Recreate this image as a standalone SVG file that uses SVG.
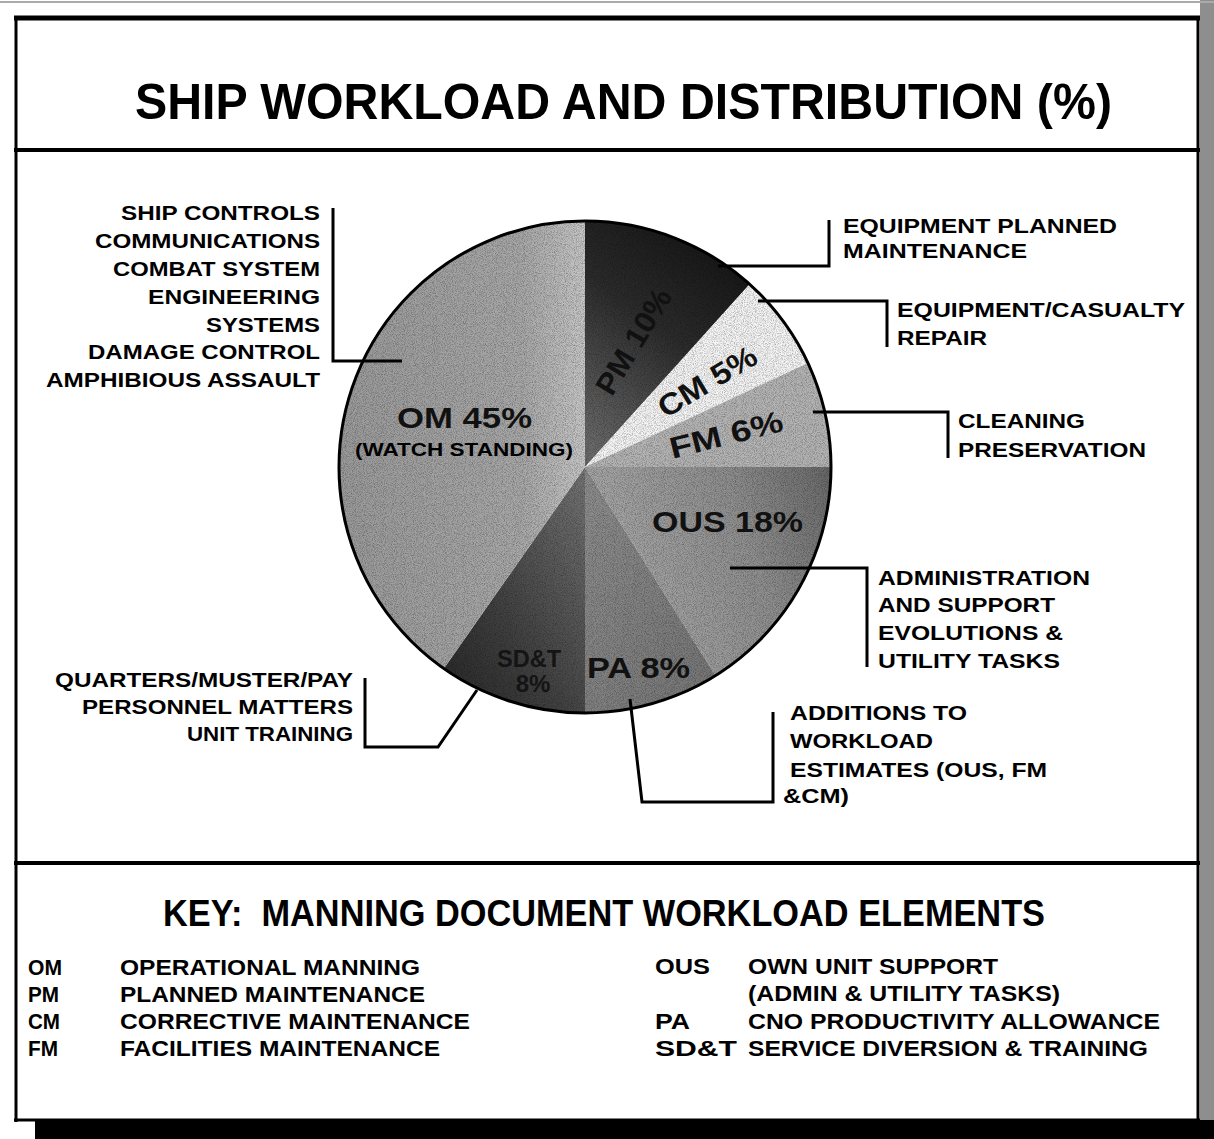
<svg xmlns="http://www.w3.org/2000/svg" width="1214" height="1139" viewBox="0 0 1214 1139">
<style>
  text { font-family: "Liberation Sans", Arial, sans-serif; font-weight: bold; fill: #000; }
  .lbl { font-size: 20px; }
  .key { font-size: 22px; }
  .pie { font-size: 30px; fill: #111; }
  .dark { fill: #141414; }
  .frame { stroke: #000; fill: none; }
  .lead { stroke: #000; stroke-width: 3; fill: none; stroke-linejoin: miter; }
</style>
<defs>
  <linearGradient id="gOM" x1="0" y1="0" x2="1" y2="0">
    <stop offset="0" stop-color="#9a9a9a"/>
    <stop offset="0.75" stop-color="#a8a8a8"/>
    <stop offset="1" stop-color="#c6c6c6"/>
  </linearGradient>
  <linearGradient id="gPM" x1="0.7" y1="0" x2="0.2" y2="1">
    <stop offset="0" stop-color="#151515"/>
    <stop offset="0.45" stop-color="#2c2c2c"/>
    <stop offset="1" stop-color="#6a6a6a"/>
  </linearGradient>
  <linearGradient id="gOUS" x1="0" y1="0.3" x2="1" y2="0">
    <stop offset="0" stop-color="#a8a8a8"/>
    <stop offset="0.6" stop-color="#8e8e8e"/>
    <stop offset="1" stop-color="#686868"/>
  </linearGradient>
  <linearGradient id="gPA" x1="0" y1="0" x2="1" y2="1">
    <stop offset="0" stop-color="#8e8e8e"/>
    <stop offset="1" stop-color="#747474"/>
  </linearGradient>
  <linearGradient id="gSDT" x1="1" y1="0" x2="0" y2="1">
    <stop offset="0" stop-color="#747474"/>
    <stop offset="0.6" stop-color="#404040"/>
    <stop offset="1" stop-color="#262626"/>
  </linearGradient>
  <clipPath id="pieClip"><circle cx="585" cy="467" r="246"/></clipPath>
  <filter id="grain" x="0" y="0" width="100%" height="100%">
    <feTurbulence type="fractalNoise" baseFrequency="1.1" numOctaves="1" seed="4"/>
    <feColorMatrix type="matrix" values="0 0 0 0 0  0 0 0 0 0  0 0 0 0 0  2.2 0 0 0 -0.9"/>
  </filter>
</defs>

<rect x="0" y="0" width="1214" height="1139" fill="#fff"/>

<g id="frame">
  <rect x="1200" y="0" width="14" height="1139" fill="#8e8e8e"/>
  <line x1="0" y1="2" x2="1214" y2="2" stroke="#aaa" stroke-width="2"/>
  <line class="frame" x1="16" y1="17" x2="16" y2="1122" stroke-width="3"/>
  <line class="frame" x1="14" y1="18" x2="1200" y2="18" stroke-width="5"/>
  <line class="frame" x1="1198" y1="17" x2="1198" y2="1122" stroke-width="3"/>
  <line class="frame" x1="14" y1="150" x2="1200" y2="150" stroke-width="4"/>
  <line class="frame" x1="14" y1="863" x2="1200" y2="863" stroke-width="4"/>
  <line class="frame" x1="14" y1="1120" x2="1200" y2="1120" stroke-width="3"/>
  <rect x="35" y="1120" width="1179" height="19" fill="#000"/>
</g>

<g id="title">
  <text x="135" y="119" font-size="50" textLength="977" lengthAdjust="spacingAndGlyphs">SHIP WORKLOAD AND DISTRIBUTION (%)</text>
</g>

<g id="pie">
  <path id="slice-PM" d="M585,467 L585,221 A246,246 0 0 1 749.6,284.2 Z" fill="url(#gPM)"/>
  <path id="slice-CM" d="M585,467 L749.6,284.2 A246,246 0 0 1 807.9,363 Z" fill="#f4f4f4"/>
  <path id="slice-FM" d="M585,467 L807.9,363 A246,246 0 0 1 831,467 Z" fill="#b4b4b4"/>
  <path id="slice-OUS" d="M585,467 L831,467 A246,246 0 0 1 715.4,675.6 Z" fill="url(#gOUS)"/>
  <path id="slice-PA" d="M585,467 L715.4,675.6 A246,246 0 0 1 585,713 Z" fill="url(#gPA)"/>
  <path id="slice-SDT" d="M585,467 L585,713 A246,246 0 0 1 443.9,668.5 Z" fill="url(#gSDT)"/>
  <path id="slice-OM" d="M585,467 L443.9,668.5 A246,246 0 0 1 585,221 Z" fill="url(#gOM)"/>
  <rect x="339" y="221" width="492" height="492" filter="url(#grain)" clip-path="url(#pieClip)" opacity="0.35"/>
  <circle cx="585" cy="467" r="246" fill="none" stroke="#000" stroke-width="3"/>
</g>

<g id="pie-labels">
  <text class="pie" x="397" y="428" textLength="135" lengthAdjust="spacingAndGlyphs">OM 45%</text>
  <text x="355" y="456" font-size="19" textLength="218" lengthAdjust="spacingAndGlyphs">(WATCH STANDING)</text>
  <text class="pie" transform="translate(633,341) rotate(-59)" text-anchor="middle" y="11" textLength="118" lengthAdjust="spacingAndGlyphs">PM 10%</text>
  <text class="pie" transform="translate(707,381) rotate(-31)" text-anchor="middle" y="11" textLength="110" lengthAdjust="spacingAndGlyphs">CM 5%</text>
  <text class="pie" transform="translate(726,434) rotate(-14)" text-anchor="middle" y="11" textLength="116" lengthAdjust="spacingAndGlyphs">FM 6%</text>
  <text class="pie" x="652" y="532" textLength="151" lengthAdjust="spacingAndGlyphs">OUS 18%</text>
  <text class="pie" x="587" y="678" textLength="103" lengthAdjust="spacingAndGlyphs">PA 8%</text>
  <text class="dark" x="529" y="667" font-size="24" text-anchor="middle" textLength="64" lengthAdjust="spacingAndGlyphs">SD&amp;T</text>
  <text class="dark" x="533" y="692" font-size="24" text-anchor="middle">8%</text>
</g>

<g id="connectors">
  <polyline class="lead" points="333,208 333,361 402,361"/>
  <polyline class="lead" points="718,266 829,266 829,220"/>
  <polyline class="lead" points="758,301 887,301 887,347"/>
  <polyline class="lead" points="813,412 948,412 948,458"/>
  <polyline class="lead" points="730,568 867,568 867,667"/>
  <polyline class="lead" points="630,699 642,802 773,802 773,712"/>
  <polyline class="lead" points="477,690 438,747 365,747 365,678"/>
</g>

<g id="label-OM">
  <text class="lbl" x="320" y="220" text-anchor="end" textLength="199" lengthAdjust="spacingAndGlyphs">SHIP CONTROLS</text>
  <text class="lbl" x="320" y="248" text-anchor="end" textLength="225" lengthAdjust="spacingAndGlyphs">COMMUNICATIONS</text>
  <text class="lbl" x="320" y="276" text-anchor="end" textLength="207" lengthAdjust="spacingAndGlyphs">COMBAT SYSTEM</text>
  <text class="lbl" x="320" y="304" text-anchor="end" textLength="172" lengthAdjust="spacingAndGlyphs">ENGINEERING</text>
  <text class="lbl" x="320" y="332" text-anchor="end" textLength="114" lengthAdjust="spacingAndGlyphs">SYSTEMS</text>
  <text class="lbl" x="320" y="359" text-anchor="end" textLength="232" lengthAdjust="spacingAndGlyphs">DAMAGE CONTROL</text>
  <text class="lbl" x="320" y="387" text-anchor="end" textLength="274" lengthAdjust="spacingAndGlyphs">AMPHIBIOUS ASSAULT</text>
</g>

<g id="label-PM">
  <text class="lbl" x="843" y="233" textLength="274" lengthAdjust="spacingAndGlyphs">EQUIPMENT PLANNED</text>
  <text class="lbl" x="843" y="258" textLength="184" lengthAdjust="spacingAndGlyphs">MAINTENANCE</text>
</g>

<g id="label-CM">
  <text class="lbl" x="897" y="317" textLength="288" lengthAdjust="spacingAndGlyphs">EQUIPMENT/CASUALTY</text>
  <text class="lbl" x="897" y="345" textLength="90" lengthAdjust="spacingAndGlyphs">REPAIR</text>
</g>

<g id="label-FM">
  <text class="lbl" x="958" y="428" textLength="127" lengthAdjust="spacingAndGlyphs">CLEANING</text>
  <text class="lbl" x="958" y="457" textLength="188" lengthAdjust="spacingAndGlyphs">PRESERVATION</text>
</g>

<g id="label-OUS">
  <text class="lbl" x="878" y="585" textLength="212" lengthAdjust="spacingAndGlyphs">ADMINISTRATION</text>
  <text class="lbl" x="878" y="612" textLength="177" lengthAdjust="spacingAndGlyphs">AND SUPPORT</text>
  <text class="lbl" x="878" y="640" textLength="185" lengthAdjust="spacingAndGlyphs">EVOLUTIONS &amp;</text>
  <text class="lbl" x="878" y="668" textLength="182" lengthAdjust="spacingAndGlyphs">UTILITY TASKS</text>
</g>

<g id="label-PA">
  <text class="lbl" x="790" y="720" textLength="177" lengthAdjust="spacingAndGlyphs">ADDITIONS TO</text>
  <text class="lbl" x="790" y="748" textLength="143" lengthAdjust="spacingAndGlyphs">WORKLOAD</text>
  <text class="lbl" x="790" y="777" textLength="257" lengthAdjust="spacingAndGlyphs">ESTIMATES (OUS, FM</text>
  <text class="lbl" x="783" y="803" textLength="66" lengthAdjust="spacingAndGlyphs">&amp;CM)</text>
</g>

<g id="label-SDT">
  <text class="lbl" x="353" y="687" text-anchor="end" textLength="298" lengthAdjust="spacingAndGlyphs">QUARTERS/MUSTER/PAY</text>
  <text class="lbl" x="353" y="714" text-anchor="end" textLength="271" lengthAdjust="spacingAndGlyphs">PERSONNEL MATTERS</text>
  <text class="lbl" x="353" y="741" text-anchor="end" textLength="166" lengthAdjust="spacingAndGlyphs">UNIT TRAINING</text>
</g>

<g id="key">
  <text x="163" y="926" font-size="36" textLength="882" lengthAdjust="spacingAndGlyphs" style="white-space:pre">KEY:  MANNING DOCUMENT WORKLOAD ELEMENTS</text>
  <text class="key" x="28" y="975" textLength="34" lengthAdjust="spacingAndGlyphs">OM</text>
  <text class="key" x="120" y="975" textLength="300" lengthAdjust="spacingAndGlyphs">OPERATIONAL MANNING</text>
  <text class="key" x="28" y="1002" textLength="31" lengthAdjust="spacingAndGlyphs">PM</text>
  <text class="key" x="120" y="1002" textLength="305" lengthAdjust="spacingAndGlyphs">PLANNED MAINTENANCE</text>
  <text class="key" x="28" y="1029" textLength="32" lengthAdjust="spacingAndGlyphs">CM</text>
  <text class="key" x="120" y="1029" textLength="350" lengthAdjust="spacingAndGlyphs">CORRECTIVE MAINTENANCE</text>
  <text class="key" x="28" y="1056" textLength="30" lengthAdjust="spacingAndGlyphs">FM</text>
  <text class="key" x="120" y="1056" textLength="320" lengthAdjust="spacingAndGlyphs">FACILITIES MAINTENANCE</text>
  <text class="key" x="655" y="974" textLength="55" lengthAdjust="spacingAndGlyphs">OUS</text>
  <text class="key" x="748" y="974" textLength="250" lengthAdjust="spacingAndGlyphs">OWN UNIT SUPPORT</text>
  <text class="key" x="748" y="1001" textLength="312" lengthAdjust="spacingAndGlyphs">(ADMIN &amp; UTILITY TASKS)</text>
  <text class="key" x="655" y="1029" textLength="35" lengthAdjust="spacingAndGlyphs">PA</text>
  <text class="key" x="748" y="1029" textLength="412" lengthAdjust="spacingAndGlyphs">CNO PRODUCTIVITY ALLOWANCE</text>
  <text class="key" x="655" y="1056" textLength="82" lengthAdjust="spacingAndGlyphs">SD&amp;T</text>
  <text class="key" x="748" y="1056" textLength="400" lengthAdjust="spacingAndGlyphs">SERVICE DIVERSION &amp; TRAINING</text>
</g>
</svg>
